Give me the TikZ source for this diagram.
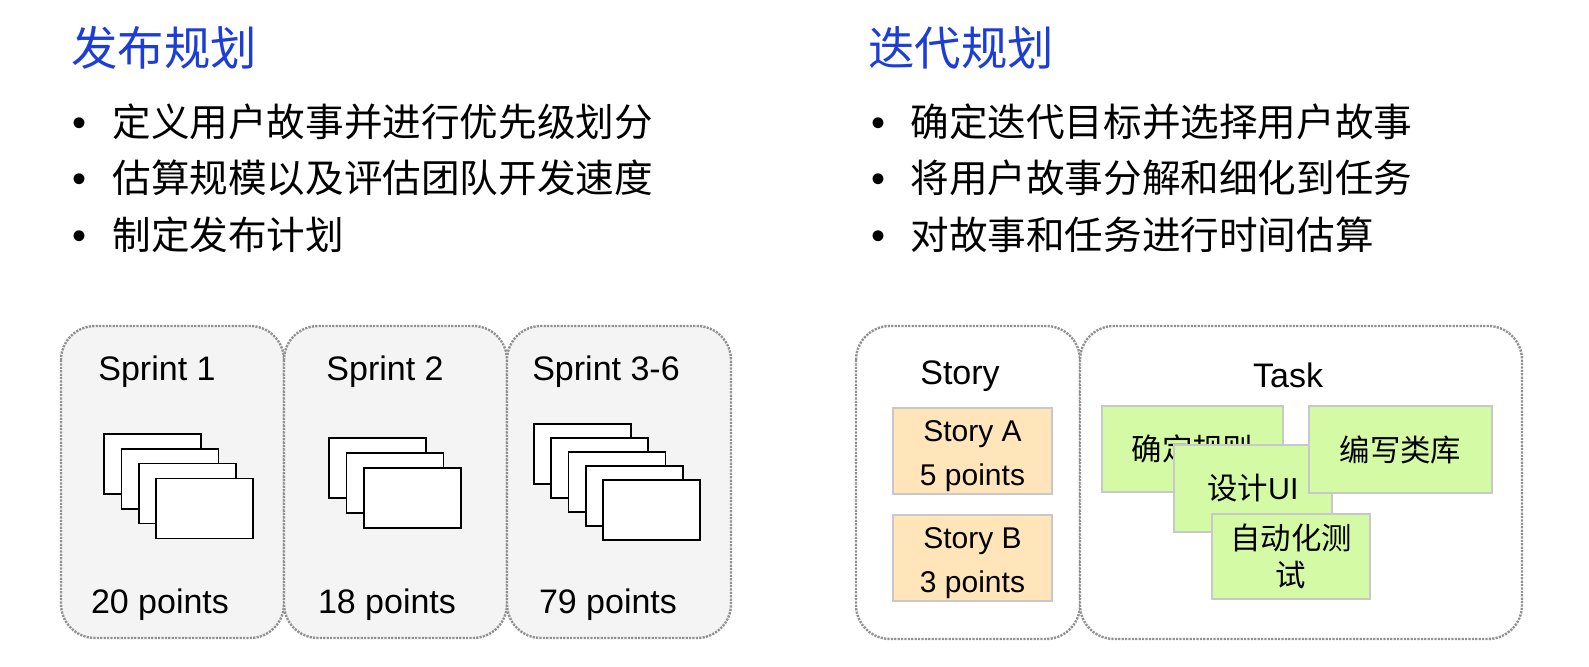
\documentclass[tikz,border=0pt]{standalone}
\usepackage{fontspec}
\setmainfont{Liberation Sans}
\newfontfamily\cjk{Noto Sans CJK SC}
\definecolor{titleblue}{RGB}{28,62,214}
\definecolor{boxgray}{RGB}{244,244,244}
\definecolor{dotgray}{RGB}{145,145,145}
\definecolor{storyfill}{RGB}{255,229,185}
\definecolor{taskfill}{RGB}{213,250,166}
\definecolor{edgegray}{RGB}{200,200,200}
\tikzset{
  heading/.style={anchor=west, inner sep=0pt, text=titleblue, font=\cjk\fontsize{23.2}{27}\selectfont},
  bulletdot/.style={anchor=base, inner sep=0pt, font=\fontsize{20}{22}\selectfont},
  bulletline/.style={anchor=west, inner sep=0pt, font=\cjk\fontsize{19.3}{22}\selectfont},
  groupbox/.style={draw=dotgray, line width=1.2pt, dash pattern=on 1.1pt off 0.6pt, rounded corners=17pt},
  label/.style={inner sep=0pt, font=\fontsize{17}{20}\selectfont},
  card/.style={draw=black, fill=white, line width=0.8pt},
  storybox/.style={draw=edgegray, fill=storyfill, line width=0.8pt, minimum width=79.5pt, minimum height=43pt},
  storytext/.style={inner sep=0pt, align=center, font=\fontsize{15}{22}\selectfont},
  taskbox/.style={draw=edgegray, fill=taskfill, line width=0.8pt, inner sep=0pt,
    align=center, font=\cjk\fontsize{15.2}{18.5}\selectfont}
}
\begin{document}
\begin{tikzpicture}[x=0.5pt, y=-0.5pt]
    \useasboundingbox (0,0) rectangle (1589,667);

    % release planning
    \node[heading] (relTitle) at (71,48) {发布规划};
    \node[bulletline] (relLine1) at (112,122) {定义用户故事并进行优先级划分};
    \node[bulletline] (relLine2) at (112,178) {估算规模以及评估团队开发速度};
    \node[bulletline] (relLine3) at (112,235) {制定发布计划};
    \node[bulletdot] (relDot1) at ([xshift=-16pt]relLine1.base west) {•};
    \node[bulletdot] (relDot2) at ([xshift=-16pt]relLine2.base west) {•};
    \node[bulletdot] (relDot3) at ([xshift=-16pt]relLine3.base west) {•};

    % iteration planning
    \node[heading] (itTitle) at (868,48) {迭代规划};
    \node[bulletline] (itLine1) at (910,122) {确定迭代目标并选择用户故事};
    \node[bulletline] (itLine2) at (910,178) {将用户故事分解和细化到任务};
    \node[bulletline] (itLine3) at (910,235) {对故事和任务进行时间估算};
    \node[bulletdot] (itDot1) at ([xshift=-16pt]itLine1.base west) {•};
    \node[bulletdot] (itDot2) at ([xshift=-16pt]itLine2.base west) {•};
    \node[bulletdot] (itDot3) at ([xshift=-16pt]itLine3.base west) {•};

    % sprints
    \draw[groupbox, fill=boxgray] (61,326) rectangle (284,638);
    \draw[groupbox, fill=boxgray] (284,326) rectangle (507,638);
    \draw[groupbox, fill=boxgray] (507,326) rectangle (731,638);
    \node[label] (sprintA) at (157,372) {Sprint 1};
    \node[label] (sprintB) at (385,372) {Sprint 2};
    \node[label] (sprintC) at (606,372) {Sprint 3-6};
    \foreach \i in {0,...,3}
        \draw[card] ({104+17.4*\i},{434+14.8*\i}) rectangle ++(97,60);
    \foreach \i in {0,...,2}
        \draw[card] ({329+17.5*\i},{438+15*\i}) rectangle ++(97,60);
    \foreach \i in {0,...,4}
        \draw[card] ({534+17.25*\i},{424+14*\i}) rectangle ++(97,60);
    \node[label] (pointsA) at (160,605) {20 points};
    \node[label] (pointsB) at (387,605) {18 points};
    \node[label] (pointsC) at (608,605) {79 points};

    % stories and tasks
    \draw[groupbox, fill=white] (856,326) rectangle (1080,639);
    \draw[groupbox, fill=white] (1080,326) rectangle (1522,639);
    \node[label] (storyLabel) at (960,376) {Story};
    \node[label] (taskLabel) at (1288,375) {Task};
    \node[storybox] (storyA) at (972.5,451) {};
    \node[storytext] (storyAText) at ([yshift=-2.5pt]storyA.center) {Story A\\5 points};
    \node[storybox] (storyB) at (972.5,558) {};
    \node[storytext] (storyBText) at ([yshift=-2.5pt]storyB.center) {Story B\\3 points};
    \node[taskbox, minimum width=90.5pt, minimum height=43pt] (taskRule) at (1192.5,449) {确定规则};
    \node[taskbox, minimum width=79pt, minimum height=43.5pt] (taskUI) at (1253,488.5) {设计\fontspec{Liberation Sans}UI};
    \node[taskbox, minimum width=91.5pt, minimum height=43.5pt] (taskLib) at (1400.5,449.5) {编写类库};
    \node[taskbox, minimum width=79pt, minimum height=42.5pt] (taskTest) at (1291,556.5) {自动化测\\试};
\end{tikzpicture}
\end{document}
